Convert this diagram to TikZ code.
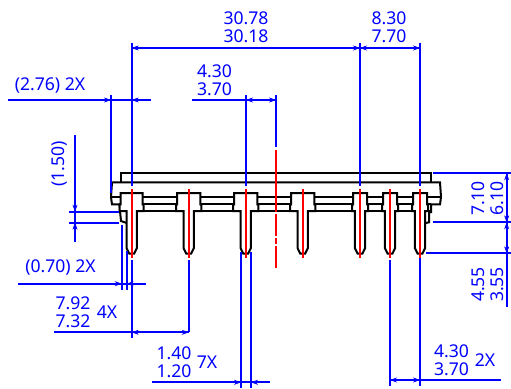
\documentclass[tikz,border=0pt]{standalone}
\usepackage{fontspec}
\setmainfont{Noto Sans}
\usetikzlibrary{arrows.meta}
\definecolor{dimblue}{RGB}{0,0,255}
\definecolor{axisred}{RGB}{255,0,0}
\tikzset{
  part/.style={draw=black,line width=2pt,line join=miter},
  dimline/.style={draw=dimblue,line width=2.1pt},
  tip/.style={draw=dimblue,fill=dimblue,line width=0.5pt,-{Stealth[length=7pt,width=5pt]}},
  axis/.style={draw=axisred,line width=2.1pt},
  dimtext/.style={text=dimblue,font=\fontsize{17.6}{19}\selectfont,inner sep=0pt,anchor=center},
}
\begin{document}
\begin{tikzpicture}[x=1pt,y=-1pt]
\useasboundingbox (0,0) rectangle (511,388);
% body
\draw[part] (121,182.3) -- (121,173.3) -- (431,173.3) -- (431,182.3);
\draw[part] (112,182.3) -- (440,182.3) -- (441,197) -- (440,204.4) -- (431,204.4) -- (431,212) -- (429,212) -- (429,222.3) -- (425.7,223);
\draw[part] (112,182.3) -- (111,197) -- (112,204.4) -- (119.5,204.4) -- (120,211) -- (121,221) -- (126.7,223);
\draw[part] (111,197) -- (441,197);
\draw[part] (120,204.4) -- (431,204.4);
\draw[part] (120,211) -- (431,211);
% pins: centre / head half width
\foreach \cx/\hw in {131.7/11,188.7/11.7,245.7/11.7,302.7/11.7,360/7,390/7,420/7}{
  \draw[part,fill=white] (\cx-\hw,193) -- (\cx+\hw,193) -- (\cx+\hw,204.4) -- (\cx+\hw+1,204.4) -- (\cx+\hw+1,211)
     -- (\cx+5.2,211) -- (\cx+5.2,248) -- (\cx+2.5,253.5) -- (\cx-2.5,253.5) -- (\cx-5.2,248) -- (\cx-5.2,211)
     -- (\cx-\hw-1,211) -- (\cx-\hw-1,204.4) -- (\cx-\hw,204.4) -- cycle;
  \draw[axis] (\cx,189) -- (\cx,257.5);
}
% centre line
\draw[axis] (276,150) -- (276,212);
\draw[axis] (276,214) -- (276,236);
\draw[axis] (276,238) -- (276,244);
\draw[axis] (276,246) -- (276,268);
% top dimensions
\draw[dimline] (131.7,42.5) -- (131.7,186);
\draw[dimline] (360,42.5) -- (360,186);
\draw[dimline] (420,42.5) -- (420,186);
\draw[dimline] (131.7,48) -- (420,48);
\draw[tip] (143,48) -- (131.7,48);
\draw[tip] (349,48) -- (360,48);
\draw[tip] (371,48) -- (360,48);
\draw[tip] (409,48) -- (420,48);
\node[dimtext] (a1) at (246,18.5) {30.78};
\node[dimtext] (a2) at (246,36.5) {30.18};
\node[dimtext] (b1) at (389,18.5) {8.30};
\node[dimtext] (b2) at (389,36.5) {7.70};
% (2.76)
\draw[dimline] (7.5,100) -- (151,100);
\draw[dimline] (111,95) -- (111,193);
\draw[tip] (100,100) -- (111,100);
\draw[tip] (143,100) -- (131.7,100);
\node[dimtext] (c1) at (50,86) {(2.76) 2X};
% 4.30 / 3.70 upper
\draw[dimline] (191.5,100) -- (276,100);
\draw[dimline] (246,95) -- (246,186);
\draw[dimline] (276,95) -- (276,147);
\draw[tip] (257,100) -- (246,100);
\draw[tip] (265,100) -- (276,100);
\node[dimtext] (d1) at (214.5,71) {4.30};
\node[dimtext] (d2) at (214.5,89) {3.70};
% (1.50)
\draw[dimline] (75,135) -- (75,242);
\draw[dimline] (69,211.7) -- (119,211.7);
\draw[dimline] (69,222.7) -- (119,222.7);
\draw[tip] (75,200) -- (75,211.7);
\draw[tip] (75,234) -- (75,222.7);
\node[dimtext,rotate=90] (e1) at (60,164) {(1.50)};
% (0.70)
\draw[dimline] (18,283.7) -- (146,283.7);
\draw[dimline] (121.7,225) -- (121.7,290);
\draw[dimline] (126.7,251) -- (126.7,290);
\draw[tip] (111,283.7) -- (121.7,283.7);
\draw[tip] (138,283.7) -- (126.7,283.7);
\node[dimtext] (f1) at (60.5,268) {(0.70) 2X};
% 7.92 / 7.32
\draw[dimline] (131.7,260) -- (131.7,338);
\draw[dimline] (188.7,260) -- (188.7,332.3);
\draw[dimline] (54,332.3) -- (188.7,332.3);
\draw[tip] (143,332.3) -- (131.7,332.3);
\draw[tip] (177,332.3) -- (188.7,332.3);
\node[dimtext] (g1) at (73,303) {7.92};
\node[dimtext] (g2) at (73,321.5) {7.32};
\node[dimtext] (g3) at (107,312) {4X};
% 1.40 / 1.20
\draw[dimline] (241,252) -- (241,388);
\draw[dimline] (251,252) -- (251,388);
\draw[dimline] (152,382.3) -- (270,382.3);
\draw[tip] (230,382.3) -- (241,382.3);
\draw[tip] (262,382.3) -- (251,382.3);
\node[dimtext] (h1) at (174,353) {1.40};
\node[dimtext] (h2) at (174,371) {1.20};
\node[dimtext] (h3) at (207,362) {7X};
% 4.30 / 3.70 lower
\draw[dimline] (390,260) -- (390,386);
\draw[dimline] (420,258) -- (420,386);
\draw[dimline] (390,380) -- (500.5,380);
\draw[tip] (401,380) -- (390,380);
\draw[tip] (409,380) -- (420,380);
\node[dimtext] (i1) at (451.5,351) {4.30};
\node[dimtext] (i2) at (451.5,369) {3.70};
\node[dimtext] (i3) at (485,360) {2X};
% right side
\draw[dimline] (433,173.3) -- (511,173.3);
\draw[dimline] (433,222.3) -- (511,222.3);
\draw[dimline] (426,253.3) -- (511,253.3);
\draw[dimline] (506.7,173.3) -- (506.7,306.5);
\draw[tip] (506.7,185) -- (506.7,173.3);
\draw[tip] (506.7,211) -- (506.7,222.3);
\draw[tip] (506.7,234) -- (506.7,222.3);
\draw[tip] (506.7,242) -- (506.7,253.3);
\node[dimtext,rotate=90] (j1) at (478,198.5) {7.10};
\node[dimtext,rotate=90] (j2) at (497,198.5) {6.10};
\node[dimtext,rotate=90] (k1) at (478,284.5) {4.55};
\node[dimtext,rotate=90] (k2) at (497,284.5) {3.55};
\end{tikzpicture}
\end{document}
